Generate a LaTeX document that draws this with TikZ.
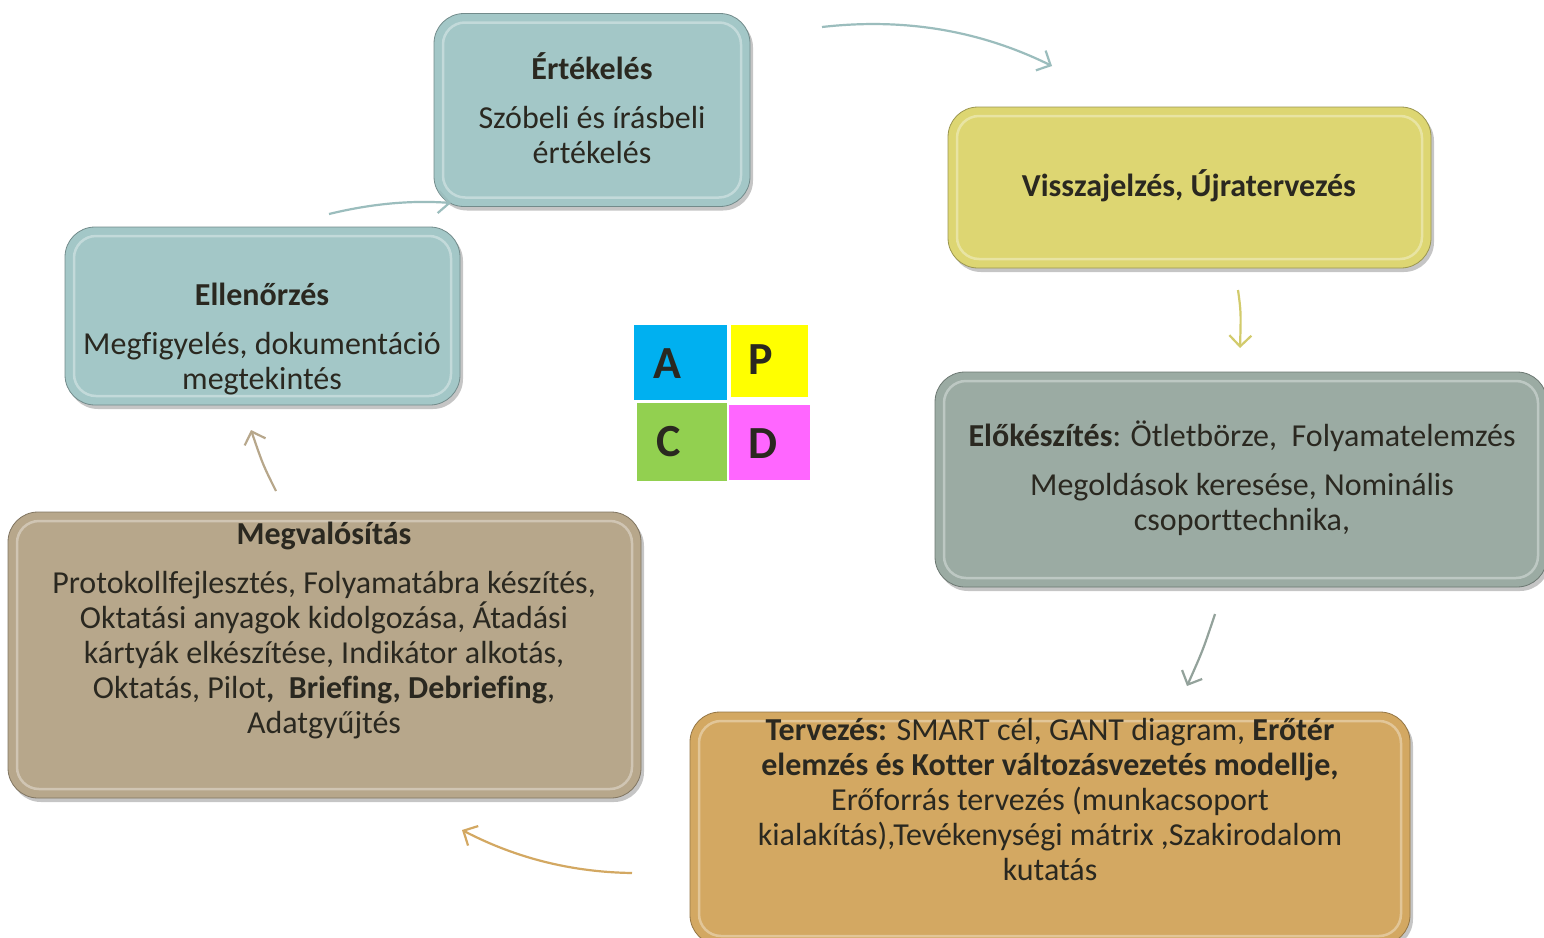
\documentclass[tikz,border=0pt]{standalone}
\usepackage{fontspec}
\setmainfont{Carlito}[Ligatures=NoCommon]
\usetikzlibrary{shadows,arrows.meta}

\definecolor{tealbox}{HTML}{A3C7C7}
\definecolor{yellowbox}{HTML}{DDD672}
\definecolor{greybox}{HTML}{9BABA3}
\definecolor{goldbox}{HTML}{D3A862}
\definecolor{tanbox}{HTML}{B7A78B}
\definecolor{textdark}{HTML}{2A2820}
\definecolor{sqblue}{HTML}{00B0F0}
\definecolor{sqyellow}{HTML}{FFFF00}
\definecolor{sqgreen}{HTML}{92D050}
\definecolor{sqpink}{HTML}{FF66FF}

\tikzset{
  phase/.style={draw=#1!70!black, line width=0.8pt, fill=#1, rounded corners=30pt,
    inner sep=0pt, drop shadow={shadow xshift=3pt, shadow yshift=-4pt, opacity=0.45},
    path picture={\draw[white, opacity=0.35, line width=2.5pt, rounded corners=22pt]
      ([shift={(9pt,-9pt)}]path picture bounding box.north west) rectangle
      ([shift={(-9pt,9pt)}]path picture bounding box.south east);}},
  phasetext/.style={text=textdark, align=center, inner sep=0pt,
    font=\fontsize{32}{35}\selectfont},
  square/.style={fill=#1, inner sep=0pt},
  letter/.style={text=textdark, inner sep=0pt, font=\fontsize{46}{46}\selectfont\bfseries},
  cycle/.style={draw=#1, line width=2.2pt, -{Straight Barb[length=11pt, width=22pt, line width=2.2pt]}}
}

\begin{document}
\begin{tikzpicture}[x=1pt, y=-1pt]
  \clip (0,0) rectangle (1544,937);
  \fill[white] (0,0) rectangle (1544,937);

  % phase boxes
  \node[phase=tealbox, minimum width=316, minimum height=193] (eval) at (592,110) {};
  \node[phase=yellowbox, minimum width=483, minimum height=161] (feedback) at (1189.5,187.5) {};
  \node[phase=greybox, minimum width=612, minimum height=215] (prep) at (1241,479.5) {};
  \node[phase=goldbox, minimum width=720, minimum height=233] (plan) at (1050,828.5) {};
  \node[phase=tanbox, minimum width=633, minimum height=286] (impl) at (324.5,655) {};
  \node[phase=tealbox, minimum width=395, minimum height=178] (check) at (262.5,316) {};

  % texts
  \node[phasetext] (eval-t) at (592,108) {\textbf{Értékelés}\\[14pt]Szóbeli és írásbeli\\értékelés};
  \node[phasetext] (feedback-t) at (1189,186) {\textbf{Visszajelzés, Újratervezés}};
  \node[phasetext] (prep-t) at (1242,478) {\textbf{Előkészítés}: Ötletbörze,\ \ Folyamatelemzés\\[14pt]Megoldások keresése, Nominális\\csoporttechnika,};
  \node[phasetext] (plan-t) at (1050,799) {\textbf{Tervezés:} SMART cél, GANT diagram, \textbf{Erőtér}\\\textbf{elemzés és Kotter változásvezetés modellje,}\\Erőforrás tervezés (munkacsoport\\kialakítás),Tevékenységi mátrix ,Szakirodalom\\kutatás};
  \node[phasetext] (impl-t) at (324,631) {\textbf{Megvalósítás}\\[14pt]Protokollfejlesztés, Folyamatábra készítés,\\Oktatási anyagok kidolgozása, Átadási\\kártyák elkészítése, Indikátor alkotás,\\Oktatás, Pilot\textbf{,\ \ Briefing, Debriefing},\\Adatgyűjtés};
  \node[phasetext] (check-t) at (262,339) {\textbf{Ellenőrzés}\\[14pt]Megfigyelés, dokumentáció\\megtekintés};

  % PDCA squares
  \node[square=sqblue, minimum width=93, minimum height=75] (sqa) at (680.5,362.5) {};
  \node[square=sqyellow, minimum width=77, minimum height=72] (sqp) at (769.5,361) {};
  \node[square=sqgreen, minimum width=90, minimum height=78] (sqc) at (682,442) {};
  \node[square=sqpink, minimum width=81, minimum height=75] (sqd) at (769.5,442.5) {};
  \node[letter] (la) at (667,364) {A};
  \node[letter] (lp) at (761,360) {P};
  \node[letter] (lc) at (669,442) {C};
  \node[letter] (ld) at (763,444) {D};

  % arrow ends
  \coordinate (e1) at (822,27);   \coordinate (e2) at (1052,66);
  \coordinate (f1) at (1238,290); \coordinate (f2) at (1240,348);
  \coordinate (p1) at (1215,614); \coordinate (p2) at (1187,686);
  \coordinate (t1) at (632,873);  \coordinate (t2) at (462,830);
  \coordinate (m1) at (276,491);  \coordinate (m2) at (251,430);
  \coordinate (c1) at (329,214);  \coordinate (c2) at (451,203);

  \draw[cycle=tealbox!95!black] (e1) .. controls (910,17) and (985,33) .. (e2);
  \draw[cycle=yellowbox!95!black] (f1) .. controls (1241,312) .. (f2);
  \draw[cycle=greybox!95!black] (p1) .. controls (1203,650) .. (p2);
  \draw[cycle=goldbox] (t1) .. controls (565,872) and (510,855) .. (t2);
  \draw[cycle=tanbox] (m1) .. controls (263,465) .. (m2);
  \draw[cycle=tealbox!95!black] (c1) .. controls (370,204) and (410,200) .. (c2);
\end{tikzpicture}
\end{document}
